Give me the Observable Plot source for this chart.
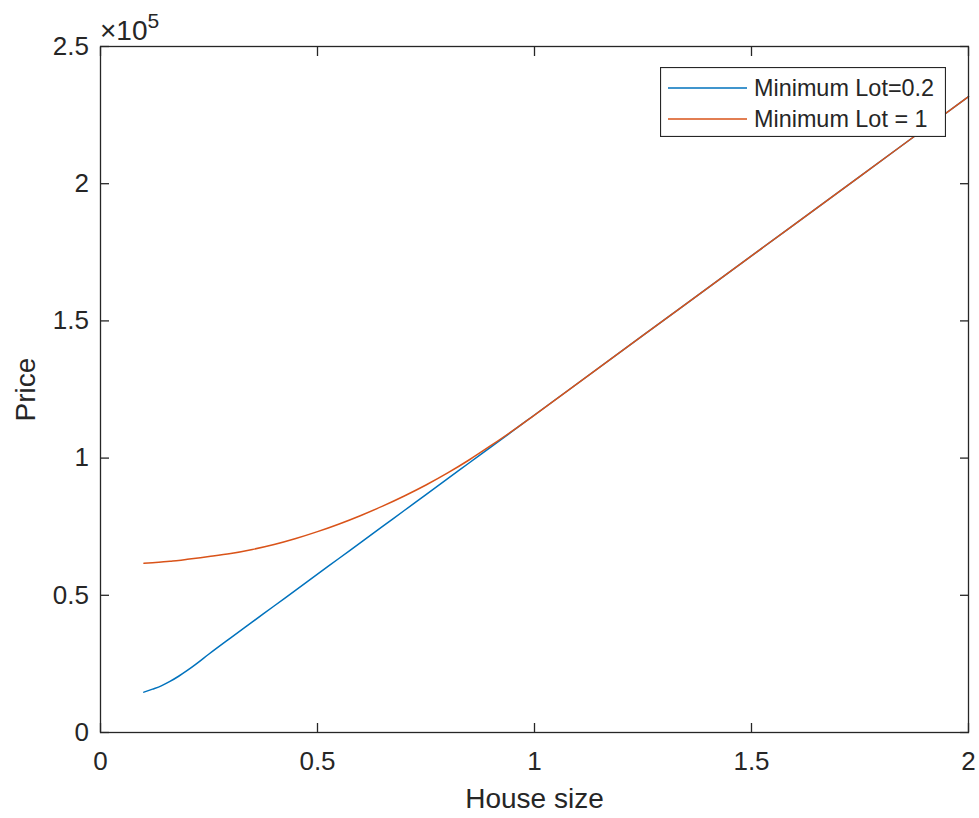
<!DOCTYPE html>
<html>
<head>
<meta charset="utf-8">
<script src="https://cdn.jsdelivr.net/npm/d3@7"></script>
<script src="https://cdn.jsdelivr.net/npm/@observablehq/plot@0.6"></script>
<style>
  html, body { margin: 0; padding: 0; background: #fff; }
  #wrap { position: relative; width: 979px; height: 818px; font-family: "Liberation Sans", Arial, Helvetica, sans-serif; color: #262626; }
  #wrap svg { display: block; }
  #legend { position: absolute; left: 660px; top: 67px; }
</style>
</head>
<body>
<div id="wrap"></div>
<script>
// ---- data (price in dollars) ----
const houseSize = [0.10,0.12,0.14,0.16,0.18,0.20,0.22,0.25,0.30,0.35,0.40,0.45,0.50,0.55,0.60,0.65,0.70,0.75,0.80,0.85,0.90,0.95,1.00,1.25,1.50,1.75,2.00];
const priceLot02 = [14700,15800,17000,18600,20500,22600,24900,28600,34500,40300,46100,51900,57700,63500,69300,75100,80900,86700,92500,98300,104100,109900,115700,144700,173700,202700,231700];
const priceLot1  = [61700,61900,62100,62400,62700,63100,63500,64100,65200,66700,68500,70700,73200,76000,79100,82500,86200,90200,94600,99400,104600,110000,115700,144700,173700,202700,231700];
const seriesNames = ["Minimum Lot=0.2", "Minimum Lot = 1"];
const seriesColors = ["#0072BD", "#D95319"];
const xTicks = [0, 0.5, 1, 1.5, 2];
const yTicks = [0, 50000, 100000, 150000, 200000, 250000];
const xLabel = "House size";
const yLabel = "Price";
const yExponent = "5";

const rows = [];
[priceLot02, priceLot1].forEach((vals, s) => {
  houseSize.forEach((x, i) => rows.push({size: x, price: vals[i], series: seriesNames[s]}));
});

const ink = "#262626";
const font = "'Liberation Sans', Arial, Helvetica, sans-serif";

const chart = Plot.plot({
  width: 979,
  height: 818,
  marginLeft: 100,
  marginRight: 11,
  marginTop: 46,
  marginBottom: 86,
  style: {fontFamily: font, fontSize: "26px", color: ink, background: "white"},
  x: {domain: [0, 2]},
  y: {domain: [0, 250000]},
  color: {domain: seriesNames, range: seriesColors},
  marks: [
    Plot.line(rows, {x: "size", y: "price", stroke: "series", strokeWidth: 1.5, curve: "monotone-x"}),
    Plot.frame({stroke: ink, strokeWidth: 1.3}),
    // inward ticks on all four sides
    Plot.axisX(xTicks, {anchor: "bottom", tickSize: -9, tickFormat: () => "", label: null, strokeWidth: 1.3}),
    Plot.axisX(xTicks, {anchor: "top", tickSize: -9, tickFormat: () => "", label: null, strokeWidth: 1.3}),
    Plot.axisY(yTicks, {anchor: "left", tickSize: -9, tickFormat: () => "", label: null, strokeWidth: 1.3}),
    Plot.axisY(yTicks, {anchor: "right", tickSize: -9, tickFormat: () => "", label: null, strokeWidth: 1.3}),
    // tick labels
    Plot.axisX(xTicks, {anchor: "bottom", tickSize: 0, tickPadding: 19.5, tickFormat: d => String(d), label: null, fontSize: 26}),
    Plot.axisY(yTicks, {anchor: "left", tickSize: 0, tickPadding: 11.5, tickFormat: d => String(d / 1e5), label: null, fontSize: 26}),
    // axis titles
    Plot.text([xLabel], {frameAnchor: "bottom", dy: 67, lineAnchor: "middle", textAnchor: "middle", text: d => d, fontSize: 28, fill: ink}),
    Plot.text([yLabel], {frameAnchor: "left", dx: -74, rotate: -90, lineAnchor: "middle", textAnchor: "middle", text: d => d, fontSize: 28, fill: ink})
  ]
});

const wrap = document.getElementById("wrap");
wrap.appendChild(chart);

// exponent label "×10^5" above the y axis
const svg = d3.select(chart);
const expText = svg.append("text")
  .attr("x", 100).attr("y", 40)
  .attr("text-anchor", "start")
  .attr("font-family", font).attr("font-size", 28).attr("fill", ink);
expText.append("tspan").text("×10");
expText.append("tspan").attr("dy", -12).attr("font-size", 21).text(yExponent);

// legend box
const lw = 286, lh = 70;
const leg = d3.select(wrap).append("svg")
  .attr("id", "legend").attr("width", lw).attr("height", lh);
leg.append("rect").attr("x", 0.5).attr("y", 0.5).attr("width", lw - 1).attr("height", lh - 1)
  .attr("fill", "white").attr("stroke", ink).attr("stroke-width", 1.2);
seriesNames.forEach((name, i) => {
  const cy = 21 + i * 31;
  leg.append("line").attr("x1", 8).attr("x2", 87).attr("y1", cy).attr("y2", cy)
    .attr("stroke", seriesColors[i]).attr("stroke-width", 1.5);
  leg.append("text").attr("x", 94).attr("y", cy).attr("dy", "0.35em")
    .attr("text-anchor", "start")
    .attr("font-family", font).attr("font-size", 23.4).attr("fill", ink).text(name);
});
</script>
</body>
</html>
